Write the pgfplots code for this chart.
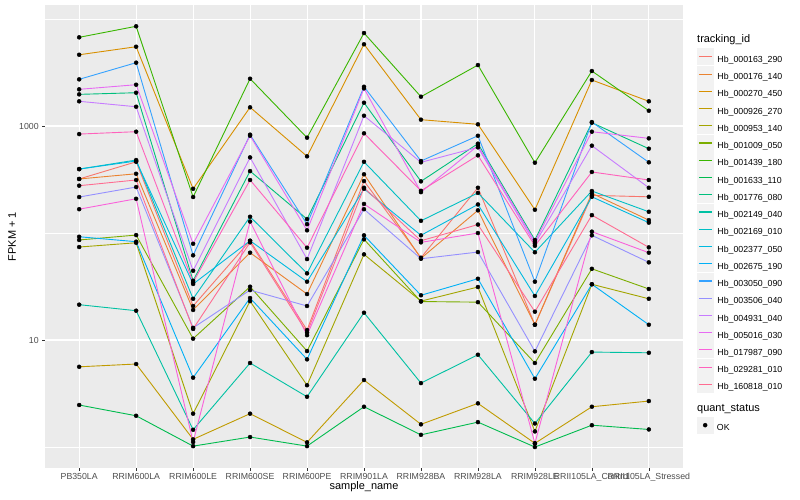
\documentclass[border=0pt]{standalone}
\usepackage{fontspec}
\setmainfont{Liberation Sans}
\usepackage{pgfplots}
\usepackage{pgfplotstable}
\pgfplotsset{compat=1.18}

\definecolor{panel}{HTML}{EBEBEB}
\definecolor{keybg}{HTML}{F2F2F2}
\definecolor{c1}{HTML}{F8766D}
\definecolor{c2}{HTML}{EA8331}
\definecolor{c3}{HTML}{D89000}
\definecolor{c4}{HTML}{C09B00}
\definecolor{c5}{HTML}{A3A500}
\definecolor{c6}{HTML}{7CAE00}
\definecolor{c7}{HTML}{39B600}
\definecolor{c8}{HTML}{00BB4E}
\definecolor{c9}{HTML}{00BF7D}
\definecolor{c10}{HTML}{00C1A3}
\definecolor{c11}{HTML}{00BFC4}
\definecolor{c12}{HTML}{00BAE0}
\definecolor{c13}{HTML}{00B0F6}
\definecolor{c14}{HTML}{35A2FF}
\definecolor{c15}{HTML}{9590FF}
\definecolor{c16}{HTML}{C77CFF}
\definecolor{c17}{HTML}{E76BF3}
\definecolor{c18}{HTML}{FA62DB}
\definecolor{c19}{HTML}{FF62BC}
\definecolor{c20}{HTML}{FF6C91}

% FPKM + 1, one row per sample, one column per tracking_id
\pgfplotstableread{
x  c1   c2   c3   c4    c5   c6   c7   c8   c9   c10  c11 c12  c13  c14  c15  c16  c17  c18   c19 c20
0  320  320  4634 5.62  74   86.1 6745 2.47 1977 21.4 396 396  92.3 2731 217  1702 2203 167   841 277
1  463  358  5508 5.97  81.1 95.7 8551 1.96 2047 18.8 481 471  83   3908 269  1514 2432 209   885 313
2  20.8 19.1 259  1.18  2.05 10.3 217  1.02 35.8 1.45 24.3 33.4 4.45 61.9 13.0 44.4 79.4 1.114 34.6 12.7
3  84.7 65.5 1496 2.05  23.1 31.5 2767 1.24 379  6.1  142 84.7 24.7 830  29.3 509  811  128   313 81.8
4  12.4 26.9 521  1.106 3.78 7.89 778  1.02 135  2.95 42  35.1 6.6  121  20.8 57.1 106  11.1  72.9 11.7
5  306  354  5807 4.23  63.2 87.3 7396 2.38 1651 18.0 463 259  95.2 2328 167  1248 2249 187   855 265
6  58.8 58.0 1146 1.63  23.1 22.9 1879 1.30 304  3.96 130 95.2 26.2 471  57.5 458  241  81.8  248 84.7
7  265  163  1038 2.56  31.3 22.6 3715 1.71 684  7.29 237 185  37.4 811  66.4 632  655  100   532 120
8  13.9 13.9 165  1.083 1.40 6.1  454  1.0  86.1 1.66 66.1 25.8 4.35 35.1 7.84 79.4 83   1.083 76  18.4
9  225  235  2692 2.38  33.2 46.3 3266 1.60 1074 7.72 247 218  33.2 1089 95.2 655  885  103   372 147
10 218  132  1702 2.69  24.3 30   1390 1.46 614  7.6  158 125  13.9 458  53.2 265  767  65.5  313 73.5
}\data

\begin{document}
\begin{tikzpicture}
\path[use as bounding box] (0bp,0bp) rectangle (800bp,500bp);
\begin{axis}[
  at={(45bp,32bp)}, anchor=south west,
  scale only axis, width=638bp, height=463bp,
  ymode=log, ymin=0.637, ymax=13520,
  xmin=-0.6, xmax=10.6,
  axis background/.style={fill=panel},
  axis line style={draw=none},
  xtick={0,...,10},
  xticklabels={PB350LA,RRIM600LA,RRIM600LE,RRIM600SE,RRIM600PE,RRIM901LA,RRIM928BA,RRIM928LA,RRIM928LE,RRII105LA\_Control,RRII105LA\_Stressed},
  ytick={10,1000}, yticklabels={10,1000},
  minor ytick={1,100,10000},
  grid=both,
  major grid style={white, line width=1.07bp},
  minor grid style={white, line width=0.53bp},
  minor tick length=0pt,
  tick align=outside, major tick length=2.75bp,
  tick style={black!80, line width=0.5bp},
  tick pos=left,
  ticklabel style={font=\fontsize{8.8}{10}\selectfont, text=black!70},
  xticklabel style={yshift=1bp},
  xlabel={sample\_name}, ylabel={FPKM + 1},
  label style={font=\fontsize{11}{13}\selectfont},
  xlabel style={at={(axis description cs:0.5,-0.041)}, anchor=center},
  ylabel style={at={(axis description cs:-0.0517,0.5)}, anchor=center},
  legend style={at={(1.0219,0.9063)}, anchor=north west, draw=none, fill=none,
    inner sep=0pt, outer sep=0pt, row sep=0.34bp,
    font=\fontsize{8.8}{10}\selectfont,
    nodes={inner sep=0pt, outer sep=0pt},
    /tikz/every odd column/.append style={column sep=3.6bp}},
  legend cell align=left,
  legend image code/.code={
    \fill[keybg] (0bp,-4.85bp) rectangle (16bp,11.15bp);
    \draw[line width=1.1bp] (1.5bp,3.15bp) -- (14.5bp,3.15bp);},
]
\pgfplotsinvokeforeach{1,...,20}{
  \addplot[c#1, line width=0.9bp, no marks] table[x=x, y=c#1] {\data};
}
\pgfplotsinvokeforeach{1,...,20}{
  \addplot[only marks, forget plot, black, mark=*, mark size=2bp] table[x=x, y=c#1] {\data};
}
\legend{Hb\_000163\_290,Hb\_000176\_140,Hb\_000270\_450,Hb\_000926\_270,Hb\_000953\_140,Hb\_001009\_050,Hb\_001439\_180,Hb\_001633\_110,Hb\_001776\_080,Hb\_002149\_040,Hb\_002169\_010,Hb\_002377\_050,Hb\_002675\_190,Hb\_003050\_090,Hb\_003506\_040,Hb\_004931\_040,Hb\_005016\_030,Hb\_017987\_090,Hb\_029281\_010,Hb\_160818\_010}
\end{axis}
\begin{axis}[
  at={(45bp,32bp)}, anchor=south west,
  scale only axis, width=638bp, height=463bp,
  hide axis, xmin=0, xmax=1, ymin=0, ymax=1,
  legend style={at={(1.0219,0.1102)}, anchor=north west, draw=none, fill=none,
    inner sep=0pt, outer sep=0pt,
    font=\fontsize{8.8}{10}\selectfont,
    nodes={inner sep=0pt, outer sep=0pt},
    /tikz/every odd column/.append style={column sep=3.6bp}},
  legend image code/.code={
    \fill[keybg] (0bp,-4.85bp) rectangle (16bp,11.15bp);
    \fill[black] (8bp,3.15bp) circle (2bp);},
]
\addlegendimage{black}
\addlegendentry{OK}
\end{axis}
\node[anchor=west, inner sep=0pt, font=\fontsize{11}{13}\selectfont] at (697bp,460bp) {tracking\_id};
\node[anchor=west, inner sep=0pt, font=\fontsize{11}{13}\selectfont] at (697bp,91bp) {quant\_status};
\end{tikzpicture}
\end{document}
